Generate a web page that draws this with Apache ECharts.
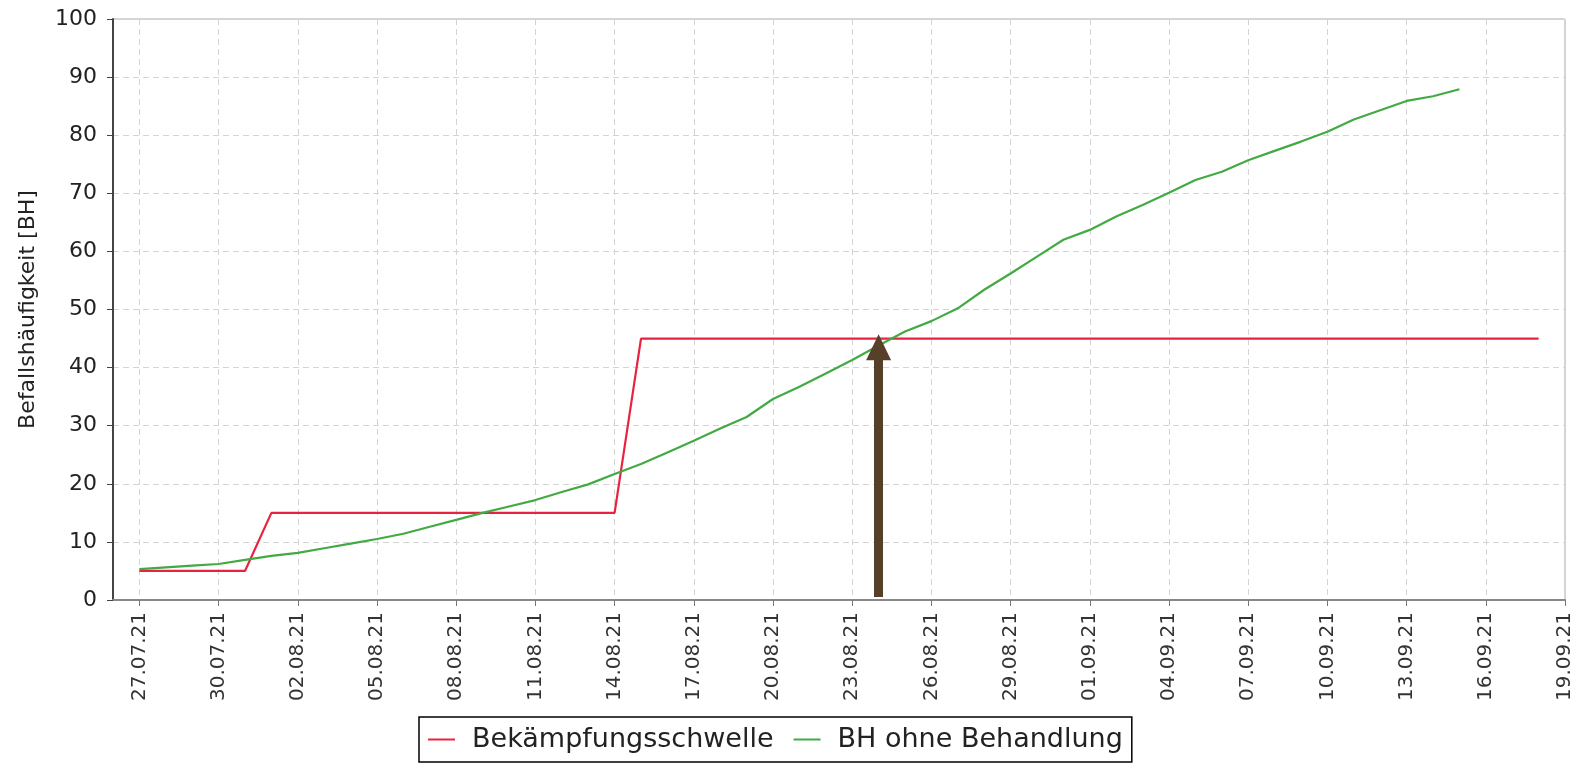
<!DOCTYPE html>
<html>
<head>
<meta charset="utf-8">
<script src="https://cdn.jsdelivr.net/npm/echarts@6/dist/echarts.min.js"></script>
<style>
  html, body { margin: 0; padding: 0; background: #fff; }
  #chart { width: 1584px; height: 763px; }
</style>
</head>
<body>
<div id="chart"></div>
<script>
// one category per day, 26.07.21 .. 19.09.21
var days = [
  '26.07.21', '27.07.21', '28.07.21', '29.07.21', '30.07.21', '31.07.21',
  '01.08.21', '02.08.21', '03.08.21', '04.08.21', '05.08.21', '06.08.21', '07.08.21',
  '08.08.21', '09.08.21', '10.08.21', '11.08.21', '12.08.21', '13.08.21', '14.08.21',
  '15.08.21', '16.08.21', '17.08.21', '18.08.21', '19.08.21', '20.08.21', '21.08.21',
  '22.08.21', '23.08.21', '24.08.21', '25.08.21', '26.08.21', '27.08.21', '28.08.21',
  '29.08.21', '30.08.21', '31.08.21', '01.09.21', '02.09.21', '03.09.21', '04.09.21',
  '05.09.21', '06.09.21', '07.09.21', '08.09.21', '09.09.21', '10.09.21', '11.09.21',
  '12.09.21', '13.09.21', '14.09.21', '15.09.21', '16.09.21', '17.09.21', '18.09.21',
  '19.09.21'
];

// Bekämpfungsschwelle
var schwelle = [
  null, 5, 5, 5, 5, 5,
  15, 15, 15, 15, 15, 15, 15,
  15, 15, 15, 15, 15, 15, 15,
  45, 45, 45, 45, 45, 45, 45,
  45, 45, 45, 45, 45, 45, 45,
  45, 45, 45, 45, 45, 45, 45,
  45, 45, 45, 45, 45, 45, 45,
  45, 45, 45, 45, 45, 45, 45,
  null
];

// BH ohne Behandlung
var ohneBehandlung = [
  null, 5.3, 5.6, 5.9, 6.2, 6.9,
  7.6, 8.1, 8.9, 9.7, 10.5, 11.4, 12.6,
  13.8, 15.0, 16.1, 17.2, 18.6, 19.9, 21.7,
  23.4, 25.4, 27.4, 29.5, 31.5, 34.6, 36.7,
  39.0, 41.3, 43.8, 46.2, 48.0, 50.2, 53.4,
  56.2, 59.1, 62.0, 63.7, 66.0, 68.0, 70.1,
  72.3, 73.7, 75.7, 77.3, 78.9, 80.6, 82.7,
  84.3, 85.9, 86.7, 87.9, null, null, null,
  null
];

var arrowDay = '24.08.21';
var arrowFrom = 0.5;
var arrowTo = 43.5;

var showEvery3 = function (i) { return i % 3 === 1; };

var chart = echarts.init(document.getElementById('chart'), null, { renderer: 'canvas' });

var option = {
  backgroundColor: '#fff',
  animation: false,
  grid: {
    left: 113, right: 19, top: 19, bottom: 163,
    outerBoundsMode: 'none',
    show: true,
    borderColor: '#aaa',
    borderWidth: 1
  },
  legend: {
    left: 419,
    top: 717,
    padding: [9, 9, 9, 9],
    borderColor: '#000',
    borderWidth: 1.5,
    icon: 'rect',
    itemWidth: 27,
    itemHeight: 2,
    itemGap: 20,
    textStyle: {
      fontFamily: 'DejaVu Sans',
      fontSize: 27,
      color: '#222',
      padding: [0, 0, 0, 12]
    },
    data: ['Bekämpfungsschwelle', 'BH ohne Behandlung']
  },
  xAxis: {
    type: 'category',
    data: days,
    boundaryGap: false,
    axisLine: { lineStyle: { color: '#888', width: 2 } },
    axisTick: { interval: showEvery3, length: 6, lineStyle: { color: '#777' } },
    axisLabel: {
      interval: showEvery3,
      rotate: 90,
      margin: 12,
      fontFamily: 'DejaVu Sans',
      fontSize: 20,
      color: '#333'
    },
    splitLine: {
      show: true,
      interval: showEvery3,
      lineStyle: { color: '#d4d4d4', type: [6, 4], width: 1 }
    }
  },
  yAxis: {
    type: 'value',
    min: 0,
    max: 100,
    interval: 10,
    name: 'Befallshäufigkeit [BH]',
    nameLocation: 'middle',
    nameGap: 74,
    nameTextStyle: { fontFamily: 'DejaVu Sans', fontSize: 22, color: '#222' },
    axisLine: { show: true, lineStyle: { color: '#444', width: 2 } },
    axisTick: { show: true, length: 6, lineStyle: { color: '#444' } },
    axisLabel: {
      margin: 16,
      fontFamily: 'DejaVu Sans',
      fontSize: 22,
      color: '#222'
    },
    splitLine: { lineStyle: { color: '#d4d4d4', type: [6, 4], width: 1 } }
  },
  series: [
    {
      name: 'Bekämpfungsschwelle',
      type: 'line',
      data: schwelle,
      symbol: 'none',
      color: '#e8233f',
      lineStyle: { width: 2.2, color: '#e8233f' }
    },
    {
      name: 'BH ohne Behandlung',
      type: 'line',
      data: ohneBehandlung,
      symbol: 'none',
      color: '#43aa43',
      lineStyle: { width: 2.2, color: '#43aa43' },
      markLine: {
        silent: true,
        animation: false,
        symbol: ['none', 'triangle'],
        symbolSize: [25, 26],
        label: { show: false },
        emphasis: { disabled: true },
        lineStyle: { type: 'solid', width: 9, color: '#56402a' },
        itemStyle: { color: '#56402a' },
        data: [[{ coord: [arrowDay, arrowFrom] }, { coord: [arrowDay, arrowTo] }]]
      }
    }
  ]
};

chart.setOption(option);
window.addEventListener('resize', chart.resize);
</script>
</body>
</html>
